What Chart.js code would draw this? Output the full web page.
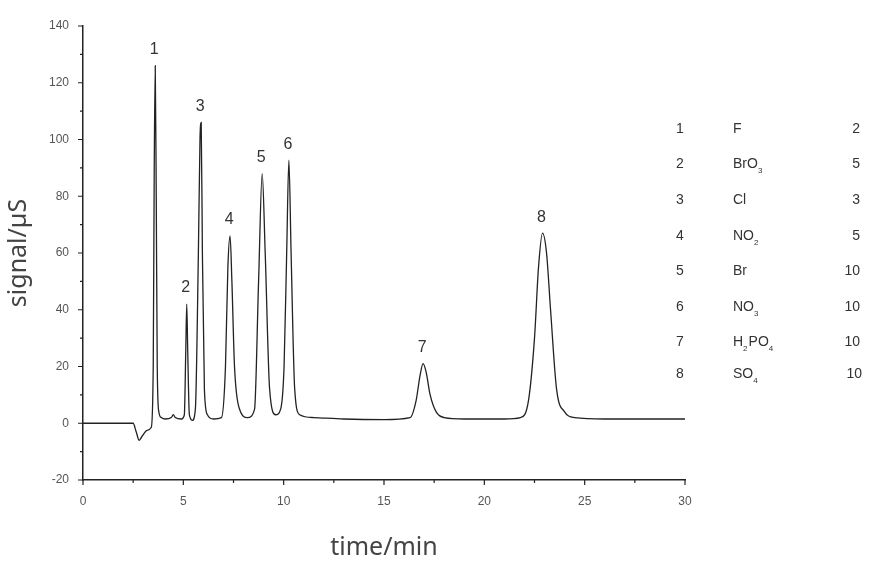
<!DOCTYPE html>
<html>
<head>
<meta charset="utf-8">
<script src="https://cdn.jsdelivr.net/npm/chart.js@4"></script>
<style>
  html, body { margin: 0; padding: 0; background: #fff; }
  #wrap { width: 884px; height: 567px; }
</style>
</head>
<body>
<div id="wrap"><canvas id="chrom"></canvas></div>
<script>
// chromatogram trace
var times = [0, 2.5, 2.65, 2.8, 2.95, 3.2, 3.4, 3.5, 3.55, 3.6, 3.65, 3.7, 3.78, 3.9, 4.1, 4.4, 4.5, 4.6, 4.9,
  5.05, 5.12, 5.17, 5.22, 5.3, 5.45, 5.6, 5.75, 5.83, 5.89, 5.95, 6.05, 6.2, 6.5, 6.9, 7.1, 7.22, 7.33, 7.42,
  7.55, 7.8, 8.2, 8.55, 8.75, 8.93, 9.08, 9.3, 9.6, 9.85, 10.02, 10.15, 10.26,
  10.37, 10.55, 10.8, 11.5, 13, 15, 16.3, 16.6, 16.8, 16.95, 17.1, 17.3, 17.6, 18, 19, 21, 21.8, 22.2, 22.5,
  22.7, 22.9, 23.1, 23.3, 23.6, 24, 24.5, 26, 30];
var signal = [0, 0, -3, -6, -4.5, -2.5, -1.5, 20, 90, 126, 80, 20, 4, 2, 1.5, 2, 3, 2, 1.5,
  3, 25, 42, 25, 3, 1, 5, 60, 100, 106, 60, 12, 3, 1.5, 2, 20, 55, 66, 50,
  20, 5, 2, 5, 50, 88, 60, 12, 3, 5, 20, 60, 92.7,
  60, 12, 3, 2, 1.5, 1.3, 2, 8, 17, 21, 18, 10, 4, 2, 1.5, 1.5, 2, 8, 30,
  55, 67, 60, 40, 12, 4, 2, 1.5, 1.5];

var peakNums = ['1', '2', '3', '4', '5', '6', '7', '8'];
var peakTimes = [3.6, 5.17, 5.89, 7.33, 8.93, 10.26, 16.95, 22.9];
var peakHeights = [126, 42, 106, 66, 88, 92.7, 21, 67];

// ion table: [base, subscript, base, subscript]
var ionNames = [['F'], ['BrO', '3'], ['Cl'], ['NO', '2'], ['Br'], ['NO', '3'], ['H', '2', 'PO', '4'], ['SO', '4']];
var ionConc = ['2', '5', '3', '5', '10', '10', '10', '10'];

var points = times.map(function (t, i) { return { x: t, y: signal[i] }; });

var peakLabels = {
  id: 'peakLabels',
  afterDatasetsDraw: function (chart) {
    var ctx = chart.ctx, xs = chart.scales.x, ys = chart.scales.y;
    ctx.save();
    ctx.fillStyle = '#333';
    ctx.font = '16px "Liberation Sans", Arial, sans-serif';
    ctx.textAlign = 'center';
    ctx.textBaseline = 'bottom';
    peakNums.forEach(function (n, i) {
      ctx.fillText(n, xs.getPixelForValue(peakTimes[i]) - 1, ys.getPixelForValue(peakHeights[i]) - 8);
    });

    // ion table on the right
    ctx.textBaseline = 'alphabetic';
    var rowY = [133, 168, 204, 240, 275, 311, 346, 378];
    ionNames.forEach(function (parts, i) {
      var y = rowY[i];
      ctx.textAlign = 'left';
      ctx.font = '14px "Liberation Sans", Arial, sans-serif';
      ctx.fillText(peakNums[i], 676, y);
      var x = 733;
      parts.forEach(function (p, j) {
        if (j % 2 === 0) {
          ctx.font = '14px "Liberation Sans", Arial, sans-serif';
          ctx.fillText(p, x, y);
        } else {
          ctx.font = '8px "Liberation Sans", Arial, sans-serif';
          ctx.fillText(p, x, y + 5);
        }
        x += ctx.measureText(p).width + (j % 2 ? 1 : 0);
      });
      ctx.font = '14px "Liberation Sans", Arial, sans-serif';
      ctx.textAlign = 'right';
      ctx.fillText(ionConc[i], i === 7 ? 862 : 860, y);
    });
    ctx.restore();
  }
};

new Chart(document.getElementById('chrom'), {
  type: 'scatter',
  data: {
    datasets: [{
      data: points,
      showLine: true,
      borderColor: '#222',
      borderWidth: 1.3,
      pointRadius: 0,
      cubicInterpolationMode: 'monotone'
    }]
  },
  options: {
    responsive: true,
    maintainAspectRatio: false,
    animation: false,
    layout: { padding: { left: 0, right: 199, top: 26, bottom: 0 } },
    plugins: { legend: { display: false }, tooltip: { enabled: false } },
    scales: {
      x: {
        type: 'linear',
        min: 0, max: 30,
        border: { color: '#222', width: 1.5 },
        grid: { display: false },
        ticks: { stepSize: 5, color: '#555', font: { size: 12 }, padding: 6 },
        title: { display: true, text: 'time/min', color: '#444',
          font: { size: 25, family: '"Noto Sans", sans-serif' }, padding: { top: 2 } },
        afterFit: function (s) { s.height = 87; }
      },
      y: {
        min: -20, max: 140,
        border: { color: '#222', width: 1.5 },
        grid: { display: false },
        ticks: { stepSize: 20, color: '#555', font: { size: 12 }, padding: 6 },
        title: { display: true, text: 'signal/µS', color: '#444',
          font: { size: 25, family: '"Noto Sans", sans-serif' }, padding: { bottom: 4 } },
        afterFit: function (s) { s.width = 83; }
      }
    }
  },
  plugins: [peakLabels, {
    id: 'ticksOut',
    afterDraw: function (chart) {
      var ctx = chart.ctx, xs = chart.scales.x, ys = chart.scales.y, a = chart.chartArea;
      ctx.save();
      ctx.strokeStyle = '#222';
      ctx.lineWidth = 1.2;
      ctx.beginPath();
      for (var v = -20; v <= 140; v += 10) {
        var py = ys.getPixelForValue(v);
        ctx.moveTo(a.left, py); ctx.lineTo(a.left - (v % 20 === 0 ? 5 : 3), py);
      }
      for (var t = 0; t <= 30; t += 2.5) {
        var px = xs.getPixelForValue(t);
        ctx.moveTo(px, a.bottom); ctx.lineTo(px, a.bottom + (t % 5 === 0 ? 5 : 3));
      }
      ctx.stroke();
      ctx.restore();
    }
  }]
});
</script>
</body>
</html>
